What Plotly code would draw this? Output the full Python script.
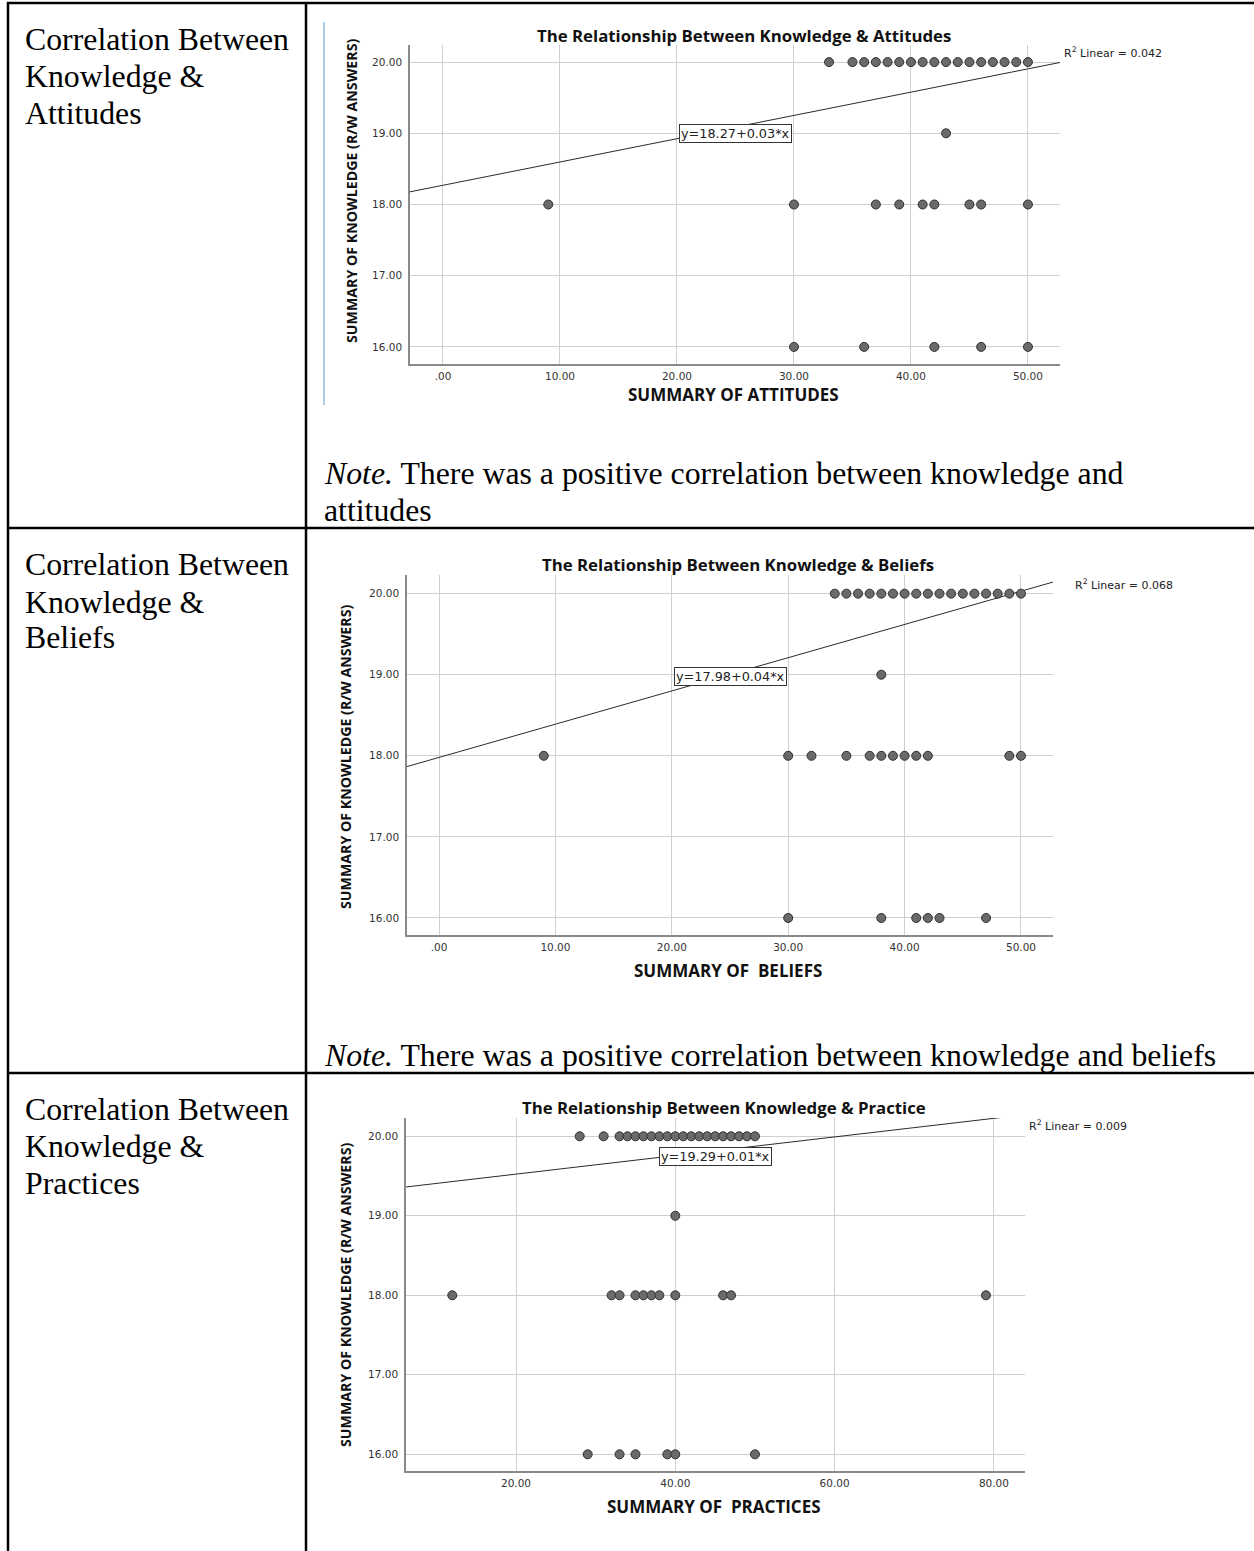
import plotly.graph_objects as go

W, H = 1254, 1551

# ---------------- DATA ----------------
row_labels = [
    ["Correlation Between", "Knowledge &", "Attitudes"],
    ["Correlation Between", "Knowledge &", "Beliefs"],
    ["Correlation Between", "Knowledge &", "Practices"],
]
chart_titles = [
    "The Relationship Between Knowledge & Attitudes",
    "The Relationship Between Knowledge & Beliefs",
    "The Relationship Between Knowledge & Practice",
]
x_titles = ["SUMMARY OF ATTITUDES", "SUMMARY OF  BELIEFS", "SUMMARY OF  PRACTICES"]
y_title = "SUMMARY OF KNOWLEDGE (R/W ANSWERS)"

knowledge_levels = [20, 19, 18, 16]

# Attitudes (x values at each knowledge level)
att_at20 = [33, 35, 36, 37, 38, 39, 40, 41, 42, 43, 44, 45, 46, 47, 48, 49, 50]
att_at19 = [43]
att_at18 = [9, 30, 37, 39, 41, 42, 45, 46, 50]
att_at16 = [30, 36, 42, 46, 50]

# Beliefs
bel_at20 = [34, 35, 36, 37, 38, 39, 40, 41, 42, 43, 44, 45, 46, 47, 48, 49, 50]
bel_at19 = [38]
bel_at18 = [9, 30, 32, 35, 37, 38, 39, 40, 41, 42, 49, 50]
bel_at16 = [30, 38, 41, 42, 43, 47]

# Practices
pra_at20 = [28, 31, 33, 34, 35, 36, 37, 38, 39, 40, 41, 42, 43, 44, 45, 46, 47, 48, 49, 50]
pra_at19 = [40]
pra_at18 = [12, 32, 33, 35, 36, 37, 38, 40, 46, 47, 79]
pra_at16 = [29, 33, 35, 39, 40, 50]

# Fit lines (intercept, slope as drawn) and R^2
fit_intercepts = [18.27, 17.98, 19.29]
fit_slopes = [0.0327, 0.041, 0.0117]
fit_labels = ["y=18.27+0.03*x", "y=17.98+0.04*x", "y=19.29+0.01*x"]
r2_values = ["0.042", "0.068", "0.009"]

x_tickvals = [[0, 10, 20, 30, 40, 50], [0, 10, 20, 30, 40, 50], [20, 40, 60, 80]]
x_ticktext = [[".00", "10.00", "20.00", "30.00", "40.00", "50.00"],
              [".00", "10.00", "20.00", "30.00", "40.00", "50.00"],
              ["20.00", "40.00", "60.00", "80.00"]]
y_tickvals = [16, 17, 18, 19, 20]
y_ticktext = ["16.00", "17.00", "18.00", "19.00", "20.00"]

notes = [
    ["<i>Note.</i> There was a positive correlation between knowledge and", "attitudes"],
    ["<i>Note.</i> There was a positive correlation between knowledge and beliefs"],
    [],
]

series = [
    [att_at20, att_at19, att_at18, att_at16],
    [bel_at20, bel_at19, bel_at18, bel_at16],
    [pra_at20, pra_at19, pra_at18, pra_at16],
]

# ---------------- LAYOUT (pixel geometry) ----------------
charts = [
    dict(left=410, right=1060, top=45, bottom=364, xr=[-2.82, 52.74], yr=[15.76, 20.24],
         title_xy=(744, 36), xt_y=394, yt_xy=(351, 191), r2_xy=(1062, 52), eq_xy=(25.0, 19.0)),
    dict(left=407, right=1053, top=575, bottom=935, xr=[-2.75, 52.75], yr=[15.79, 20.23],
         title_xy=(738, 565), xt_y=971, yt_xy=(345, 757), r2_xy=(1073, 584), eq_xy=(25.0, 18.98)),
    dict(left=406, right=1025, top=1118, bottom=1471, xr=[6.19, 83.9], yr=[15.79, 20.23],
         title_xy=(724, 1107), xt_y=1506, yt_xy=(345, 1295), r2_xy=(1027, 1125), eq_xy=(45.1, 19.74)),
]
row_text_y = [(39, 76, 113), (565, 602, 638), (1109, 1146, 1183)]
note_y = [(473, 510), (1055,), ()]


def fx(p):
    return p / W


def fy(p):
    return 1 - p / H


fig = go.Figure()
annotations = []
shapes = []

SERIF = "Liberation Serif, Times New Roman, serif"
SANS = "Open Sans, DejaVu Sans, sans-serif"
TICKF = "DejaVu Sans, Verdana, sans-serif"

for i, c in enumerate(charts):
    n = "" if i == 0 else str(i + 1)
    xa, ya = "x" + n, "y" + n
    xs, ys = [], []
    for lvl, vals in zip(knowledge_levels, series[i]):
        xs.extend(vals)
        ys.extend([lvl] * len(vals))
    x0, x1 = c["xr"]
    fig.add_trace(go.Scatter(
        x=[x0, x1],
        y=[fit_intercepts[i] + fit_slopes[i] * x0, fit_intercepts[i] + fit_slopes[i] * x1],
        mode="lines", line=dict(color="#2b2b2b", width=1), xaxis=xa, yaxis=ya,
        showlegend=False, hoverinfo="skip", cliponaxis=True))
    fig.add_trace(go.Scatter(
        x=xs, y=ys, mode="markers", xaxis=xa, yaxis=ya, showlegend=False,
        marker=dict(size=9, color="#6a6a6a", line=dict(color="#303030", width=1))))

    axkw = dict(showgrid=True, gridcolor="#cfcfcf", gridwidth=1, zeroline=False,
                showline=True, linecolor="#8a8a8a", linewidth=1.5, ticks="",
                tickfont=dict(family=TICKF, size=10.5, color="#333333"))
    fig.update_layout(**{
        "xaxis" + n: dict(axkw, domain=[fx(c["left"]), fx(c["right"])], range=c["xr"],
                          tickvals=x_tickvals[i], ticktext=x_ticktext[i], anchor=ya,
                          ticklabelstandoff=2),
        "yaxis" + n: dict(axkw, domain=[fy(c["bottom"]), fy(c["top"])], range=c["yr"],
                          tickvals=y_tickvals, ticktext=y_ticktext, anchor=xa,
                          ticklabelstandoff=4),
    })

    annotations.append(dict(x=fx(c["title_xy"][0]), y=fy(c["title_xy"][1]), xref="paper", yref="paper",
                            text="<b>" + chart_titles[i] + "</b>", showarrow=False,
                            xanchor="center", yanchor="middle",
                            font=dict(family=SANS, size=16.8, color="#111111")))
    annotations.append(dict(x=fx((c["left"] + c["right"]) / 2 - 2), y=fy(c["xt_y"]), xref="paper", yref="paper",
                            text="<b>" + x_titles[i] + "</b>", showarrow=False,
                            xanchor="center", yanchor="middle",
                            font=dict(family=SANS, size=17, color="#111111")))
    annotations.append(dict(x=fx(c["yt_xy"][0]), y=fy(c["yt_xy"][1]), xref="paper", yref="paper",
                            text="<b>" + y_title + "</b>", showarrow=False, textangle=-90,
                            xanchor="center", yanchor="middle",
                            font=dict(family=SANS, size=14.2, color="#111111")))
    annotations.append(dict(x=fx(c["r2_xy"][0]), y=fy(c["r2_xy"][1]), xref="paper", yref="paper",
                            text="R<sup>2</sup> Linear = " + r2_values[i], showarrow=False,
                            xanchor="left", yanchor="middle",
                            font=dict(family=TICKF, size=11, color="#222222")))
    annotations.append(dict(x=c["eq_xy"][0], y=c["eq_xy"][1], xref=xa, yref=ya,
                            text=fit_labels[i], showarrow=False, xanchor="center", yanchor="middle",
                            bgcolor="white", bordercolor="#333333", borderwidth=1, borderpad=1,
                            font=dict(family=TICKF, size=12.8, color="#222222")))

for i, lines in enumerate(row_labels):
    for line, yy in zip(lines, row_text_y[i]):
        annotations.append(dict(x=fx(23), y=fy(yy), xref="paper", yref="paper", text=line,
                                showarrow=False, xanchor="left", yanchor="middle",
                                font=dict(family=SERIF, size=31.8, color="black")))
for i, lines in enumerate(notes):
    for line, yy in zip(lines, note_y[i]):
        annotations.append(dict(x=fx(322), y=fy(yy), xref="paper", yref="paper", text=line,
                                showarrow=False, xanchor="left", yanchor="middle",
                                font=dict(family=SERIF, size=31.8, color="black")))

LW = 2.5
shapes.append(dict(type="line", xref="paper", yref="paper", x0=fx(8), x1=fx(8), y0=fy(2), y1=fy(H), line=dict(color="black", width=LW)))
shapes.append(dict(type="line", xref="paper", yref="paper", x0=fx(306), x1=fx(306), y0=fy(2), y1=fy(H), line=dict(color="black", width=LW)))
for yy in (3, 528, 1073):
    shapes.append(dict(type="line", xref="paper", yref="paper", x0=fx(7), x1=fx(W), y0=fy(yy), y1=fy(yy), line=dict(color="black", width=LW)))
shapes.append(dict(type="line", xref="paper", yref="paper", x0=fx(324), x1=fx(324), y0=fy(22), y1=fy(405), line=dict(color="#5b9bd5", width=1)))

fig.update_layout(width=W, height=H, margin=dict(l=0, r=0, t=0, b=0),
                  paper_bgcolor="white", plot_bgcolor="white",
                  annotations=annotations, shapes=shapes, showlegend=False)

fig.write_html("out.html", config={"displayModeBar": False},
               post_script="document.body.style.margin='0px';document.body.style.overflow='hidden';")
